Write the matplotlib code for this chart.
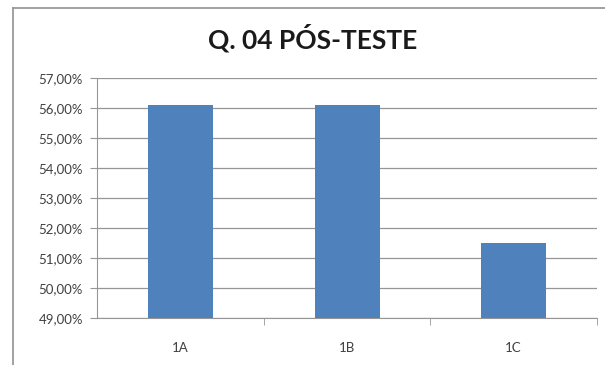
import matplotlib.pyplot as plt
from matplotlib.lines import Line2D
from matplotlib.ticker import FuncFormatter

# Percentage of correct answers per class
turmas = ['1A', '1B', '1C']
acertos = [56.1, 56.1, 51.5]
y_ticks = [49, 50, 51, 52, 53, 54, 55, 56, 57]

plt.rcParams['font.family'] = ['Lato', 'DejaVu Sans']

fig = plt.figure(figsize=(6.05, 3.65), dpi=100)
ax = fig.add_axes([97 / 605, 1 - 318 / 365, 500 / 605, 240 / 365])

# chart frame (only top and left edges show)
frame_color = '#9a9a9a'
fig.lines.append(Line2D([12.5 / 605, 12.5 / 605], [0, 1 - 8 / 365],
                        transform=fig.transFigure, color=frame_color, linewidth=1.3))
fig.lines.append(Line2D([12.5 / 605, 1], [1 - 8 / 365, 1 - 8 / 365],
                        transform=fig.transFigure, color=frame_color, linewidth=1.3))

x = range(len(turmas))
ax.bar(x, acertos, width=0.39, color='#4f81bd', zorder=3)

ax.set_ylim(49, 57)
ax.set_xlim(-0.5, len(turmas) - 0.5)
ax.set_yticks(y_ticks)
ax.yaxis.set_major_formatter(FuncFormatter(lambda v, p: f'{v:.2f}%'.replace('.', ',')))
ax.set_xticks(list(x))
ax.set_xticklabels(turmas)
ax.set_xticks([0.5, 1.5, 2.5], minor=True)

ax.grid(axis='y', color='#969696', linewidth=0.9, zorder=0)
for s in ['top', 'right']:
    ax.spines[s].set_visible(False)
ax.spines['left'].set_color('#969696')
ax.spines['bottom'].set_color('#969696')

ax.tick_params(axis='y', length=5, color='#969696', labelsize=9.5, labelcolor='#404040', pad=5)
ax.tick_params(axis='x', which='major', length=0, labelsize=9.5, labelcolor='#404040', pad=17)
ax.tick_params(axis='x', which='minor', length=5, color='#969696')

fig.text(313 / 605, 1 - 49 / 365, 'Q. 04 PÓS-TESTE', ha='center', va='baseline',
         fontsize=19, fontweight='bold', color='#1a1a1a')

fig.savefig('out.png', dpi=100)
